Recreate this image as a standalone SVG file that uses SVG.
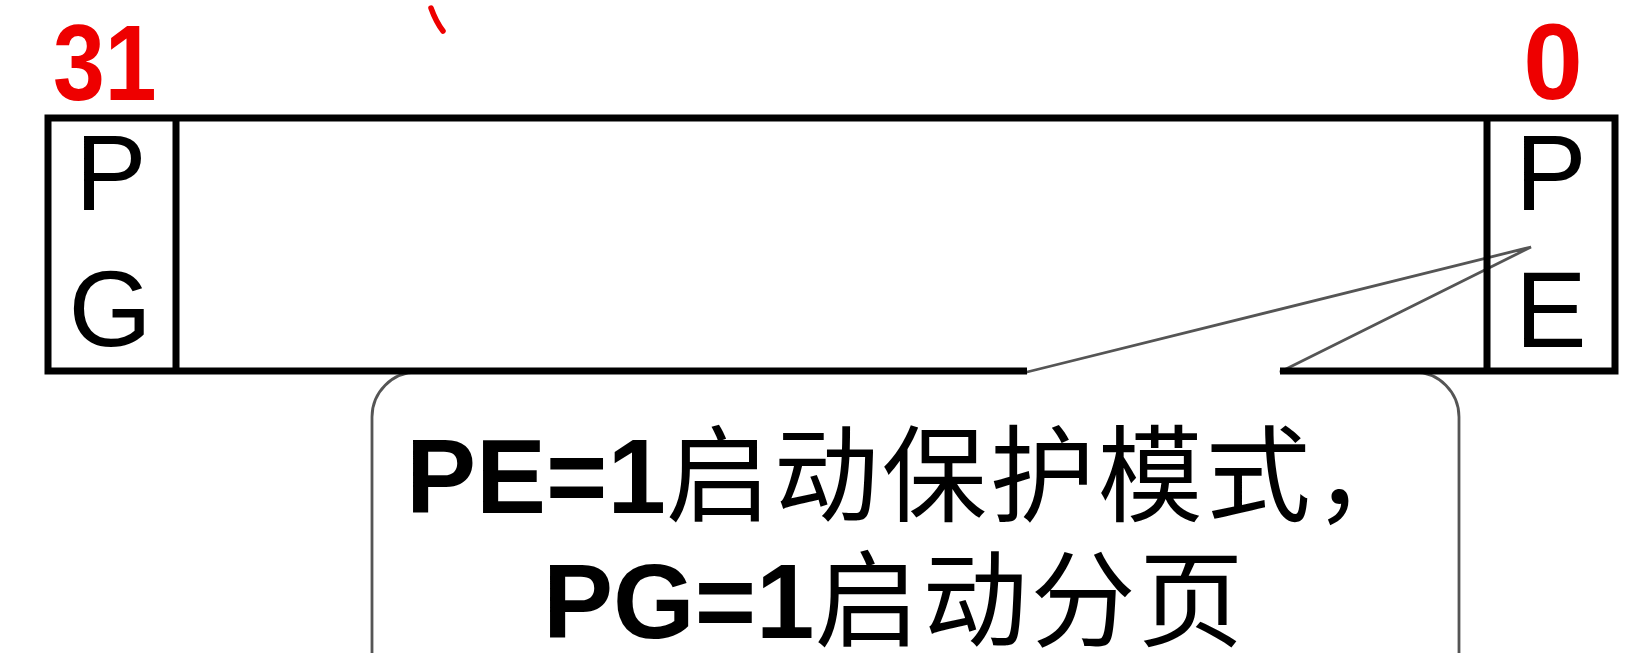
<svg xmlns="http://www.w3.org/2000/svg" width="1648" height="653" viewBox="0 0 1648 653">
  <style>
    .reg { fill: none; stroke: #000; stroke-width: 7; stroke-linejoin: miter; }
    .bit { font-family: "Liberation Sans", Arial, sans-serif; font-size: 107px; fill: #000; text-anchor: middle; }
    .num { font-family: "Liberation Sans", Arial, sans-serif; font-size: 107px; font-weight: bold; fill: #ee0000; }
    .callout { fill: #fff; stroke: #555; stroke-width: 2.8; stroke-linejoin: miter; }
    .note { font-family: "Liberation Sans", "Noto Sans CJK SC", sans-serif; font-size: 105px; fill: #000; }
    .lat { font-weight: bold; }
    .cjk { font-family: "Noto Sans CJK SC", sans-serif; font-weight: normal; letter-spacing: 3px; }
  </style>
  <rect width="1648" height="653" fill="#fff"/>

  <!-- stray red mark at the top -->
  <path d="M431,8 Q436,22 443,31" fill="none" stroke="#ee0000" stroke-width="5.5" stroke-linecap="round"/>

  <g id="callout">
    <path class="callout" d="M1027,372 L1531,247 L1280,372 L1414,372 A45,45 0 0 1 1459,417 L1459,700 L372,700 L372,417 A45,45 0 0 1 417,372 Z"/>
  </g>

  <g id="register">
    <path class="reg" d="M1027,371 L48,371 L48,118 L1615,118 L1615,371 L1280,371"/>
    <text class="num" transform="translate(53 100) scale(0.87 1)" x="0" y="0">31</text>
    <text class="num" x="1553" y="99" text-anchor="middle">0</text>
  </g>

  <g id="cell-pg">
    <line class="reg" x1="176" y1="118" x2="176" y2="371"/>
    <text class="bit" x="111" y="210">P</text>
    <text class="bit" x="110" y="346">G</text>
  </g>

  <g id="cell-pe">
    <line class="reg" x1="1487" y1="118" x2="1487" y2="371"/>
    <text class="bit" x="1551" y="210">P</text>
    <text class="bit" x="1551" y="347">E</text>
  </g>

  <g id="callout-text">
    <text class="note" x="406" y="513"><tspan class="lat">PE=1</tspan><tspan class="cjk">启动保护模式，</tspan></text>
    <text class="note" x="543" y="638"><tspan class="lat">PG=1</tspan><tspan class="cjk">启动分页</tspan></text>
  </g>

  <g id="connectors"></g>
</svg>
